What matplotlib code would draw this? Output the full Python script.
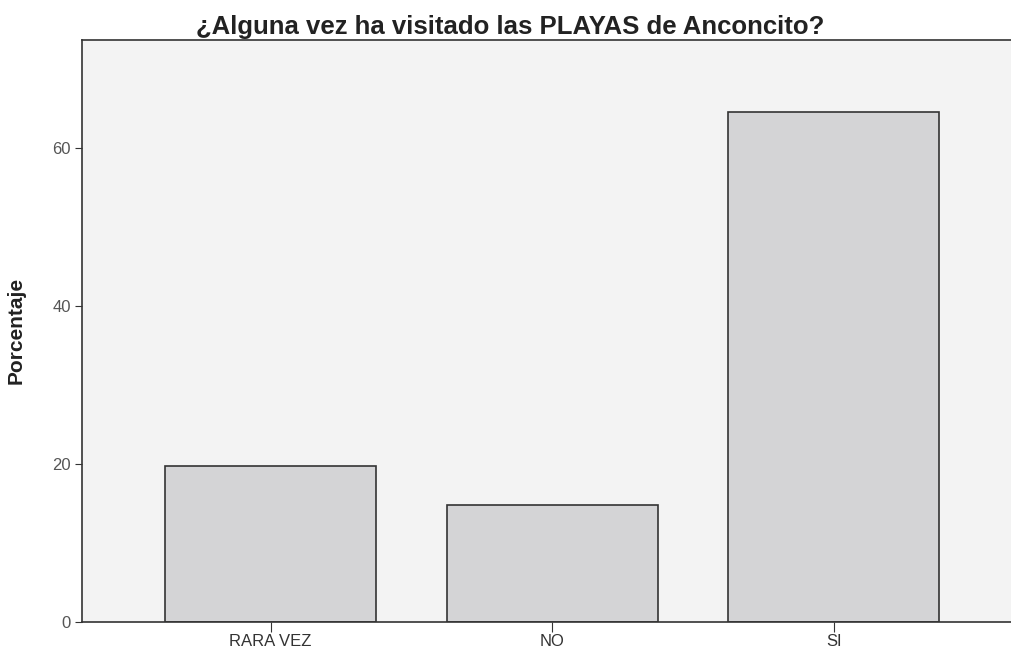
import matplotlib
matplotlib.use('Agg')
import matplotlib.pyplot as plt

categorias = ['RARA VEZ', 'NO', 'SI']
porcentajes = [19.7, 14.8, 64.5]

fig = plt.figure(figsize=(10.12, 6.51), dpi=100)
ax = fig.add_axes([0.081, 0.045, 0.918, 0.894])
ax.set_facecolor('#f3f3f3')

x = range(len(categorias))
ax.bar(x, porcentajes, width=0.75, color='#d4d4d6', edgecolor='#333333', linewidth=1.2)

ax.set_xlim(-0.67, 2.63)
ax.set_ylim(0, 73.7)
ax.set_xticks(list(x))
ax.set_xticklabels(categorias, fontsize=12, color='#333333', family='Liberation Sans')
ax.set_yticks([0, 20, 40, 60])
ax.set_yticklabels(['0', '20', '40', '60'], fontsize=12, color='#555555', family='Liberation Sans')
ax.tick_params(axis='x', direction='out', length=7, color='#333333', pad=2)
ax.tick_params(axis='y', direction='out', length=5, color='#333333', pad=3)
for s in ['left', 'bottom', 'top']:
    ax.spines[s].set_color('#333333')
    ax.spines[s].set_linewidth(1.2)
ax.spines['right'].set_visible(False)

ax.set_ylabel('Porcentaje', fontsize=15, fontweight='bold', family='Liberation Sans', color='#222222')
ax.yaxis.set_label_coords(-0.061, 0.5)
fig.text(0.504, 0.948, '¿Alguna vez ha visitado las PLAYAS de Anconcito?', ha='center', va='baseline',
         fontsize=18.5, fontweight='bold', family='Liberation Sans', color='#222222')

fig.savefig('out.png', dpi=100)
